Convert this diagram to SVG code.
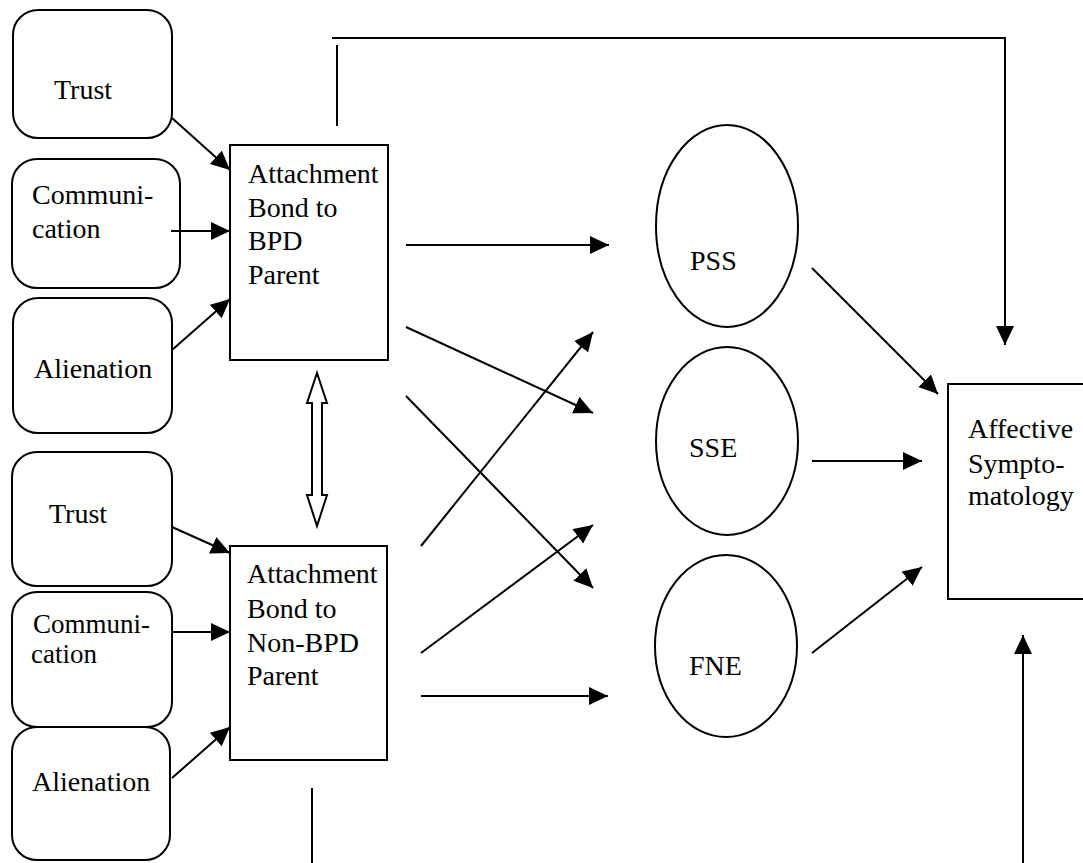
<svg xmlns="http://www.w3.org/2000/svg" width="1083" height="863" viewBox="0 0 1083 863">
<style>
.box{fill:#fff;stroke:#000;stroke-width:2}
.rbox{fill:#fff;stroke:#000;stroke-width:2}
.ell{fill:#fff;stroke:#000;stroke-width:2}
.t{font-family:"Liberation Serif","Times New Roman",serif;font-size:28px;fill:#000}
.s{font-size:27px}
.c line,.c polyline{stroke:#000;stroke-width:2;fill:none}
.arr{marker-end:url(#ah)}
</style>
<defs>
<marker id="ah" markerUnits="userSpaceOnUse" markerWidth="22" markerHeight="22" refX="19" refY="9" orient="auto">
<path d="M0,0 L19,9 L0,18 z" fill="#000"/>
</marker>
</defs>
<rect width="1083" height="863" fill="#fff"/>

<g id="trust1"><rect class="rbox" x="13" y="10" width="159" height="128" rx="25"/><text class="t" x="54" y="99">Trust</text></g>
<g id="comm1"><rect class="rbox" x="12" y="159" width="168" height="129" rx="25"/><text class="t" x="32" y="204">Communi-</text><text class="t" x="32" y="238">cation</text></g>
<g id="alien1"><rect class="rbox" x="13" y="298" width="159" height="135" rx="25"/><text class="t" x="34" y="378">Alienation</text></g>

<g id="trust2"><rect class="rbox" x="12" y="452" width="160" height="134" rx="25"/><text class="t" x="49" y="523">Trust</text></g>
<g id="comm2"><rect class="rbox" x="12" y="592" width="160" height="135" rx="25"/><text class="t s" x="33" y="633">Communi-</text><text class="t s" x="31" y="663">cation</text></g>
<g id="alien2"><rect class="rbox" x="12" y="727" width="158" height="133" rx="25"/><text class="t" x="32" y="791">Alienation</text></g>

<g id="bpd"><rect class="box" x="230" y="145" width="158" height="215"/>
<text class="t" x="248" y="183">Attachment</text><text class="t" x="248" y="217">Bond to</text><text class="t" x="248" y="250">BPD</text><text class="t" x="248" y="284">Parent</text></g>

<g id="nonbpd"><rect class="box" x="230" y="546" width="157" height="214"/>
<text class="t" x="247" y="583">Attachment</text><text class="t" x="247" y="618">Bond to</text><text class="t" x="247" y="652">Non-BPD</text><text class="t" x="247" y="685">Parent</text></g>

<g id="pss"><ellipse class="ell" cx="727" cy="226" rx="71" ry="101"/><text class="t" x="690" y="270">PSS</text></g>
<g id="sse"><ellipse class="ell" cx="727" cy="441" rx="71" ry="94"/><text class="t" x="689" y="457">SSE</text></g>
<g id="fne"><ellipse class="ell" cx="726" cy="646" rx="71" ry="91"/><text class="t" x="689" y="675">FNE</text></g>

<g id="affective"><rect class="box" x="948" y="384" width="150" height="215"/>
<text class="t" x="968" y="438">Affective</text><text class="t" x="968" y="473">Sympto-</text><text class="t" x="968" y="505">matology</text></g>

<g id="connectors" class="c">
<line class="arr" x1="172" y1="118" x2="230" y2="170"/>
<line class="arr" x1="171" y1="231" x2="230" y2="231"/>
<line class="arr" x1="172" y1="350" x2="230" y2="299"/>
<line class="arr" x1="172" y1="527" x2="230" y2="553"/>
<line class="arr" x1="172" y1="632" x2="230" y2="632"/>
<line class="arr" x1="172" y1="778" x2="230" y2="727"/>

<line class="arr" x1="406" y1="245" x2="609" y2="245"/>
<line class="arr" x1="406" y1="327" x2="593" y2="413"/>
<line class="arr" x1="406" y1="396" x2="593" y2="588"/>
<line class="arr" x1="421" y1="546" x2="593" y2="332"/>
<line class="arr" x1="421" y1="653" x2="593" y2="525"/>
<line class="arr" x1="421" y1="696" x2="608" y2="696"/>

<line class="arr" x1="812" y1="268" x2="938" y2="394"/>
<line class="arr" x1="812" y1="461" x2="922" y2="461"/>
<line class="arr" x1="812" y1="653" x2="922" y2="567"/>

<line x1="337" y1="45" x2="337" y2="126"/>
<polyline class="arr" points="332,38 1005,38 1005,345"/>
<line x1="312" y1="788" x2="312" y2="863"/>
<line class="arr" x1="1023" y1="863" x2="1023" y2="635"/>

<polygon points="317,373 327,403 322,403 322,495 327,495 317,526 307,495 312,495 312,403 307,403" fill="#fff" stroke="#000" stroke-width="2"/>
</g>
</svg>
